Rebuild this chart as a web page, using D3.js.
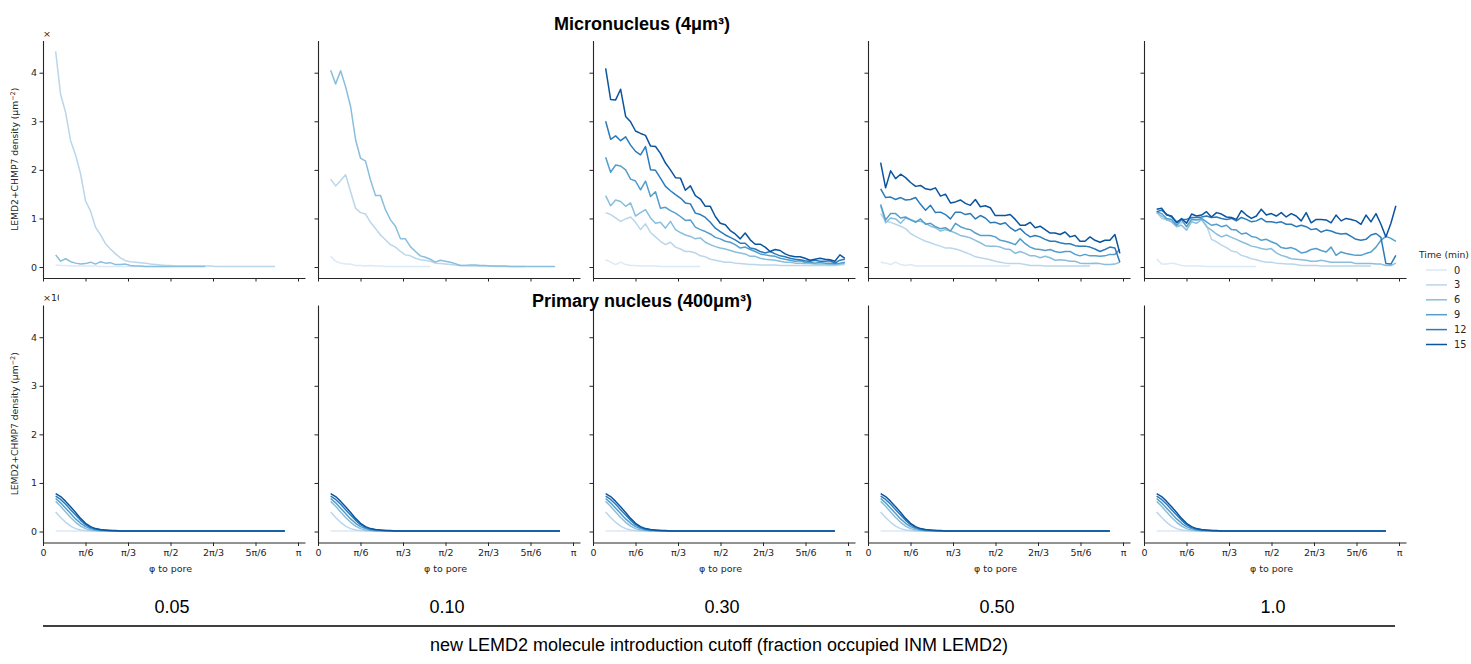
<!DOCTYPE html>
<html><head><meta charset="utf-8">
<script src="https://cdn.jsdelivr.net/npm/d3@7/dist/d3.min.js"></script>
<style>
body{margin:0;background:#fff}
svg text{font-family:"DejaVu Sans",sans-serif}
</style>
</head><body>
<svg id="chart" width="1471" height="664"></svg>
<script>
// ---------- DATA ----------
const times = [0, 3, 6, 9, 12, 15];
const cutoffs = ["0.05", "0.10", "0.30", "0.50", "1.0"];
const timeColors = ["#dbe9f6", "#bad6eb", "#89bedc", "#539ecd", "#2b7bba", "#0b559f"];
const xTickLabels = ["0", "π/6", "π/3", "π/2", "2π/3", "5π/6", "π"];
const xTickFractions = [0, 1/6, 1/3, 1/2, 2/3, 5/6, 1];
const yTicks = [0, 1, 2, 3, 4];

// angular bin centres (rad)
const phi = [0.156,0.217,0.279,0.340,0.402,0.463,0.524,0.586,0.647,0.709,0.770,0.831,0.893,0.954,1.016,1.077,1.138,1.200,1.261,1.323,1.384,1.445,1.507,1.568,1.630,1.691,1.752,1.814,1.875,1.937,1.998,2.059,2.121,2.182,2.244,2.305,2.366,2.428,2.489,2.551,2.612,2.673,2.735,2.796,2.858,2.919,2.980,3.042,3.103];

// Micronucleus, cutoff 0.05 (index = time 0,3,6,9,12,15)
const micro005 = [
  [0.04,0.03,0.03,0.02,0.02,0.02,0.02,0.02,0.02,0.01,0.01,0.01,0.01,0.01,0.01,0.01,0.01,0.01,0.01,0.01,0.01,0.01,0.01,0.01],
  [4.44,3.55,3.18,2.60,2.30,1.92,1.36,1.15,0.82,0.66,0.48,0.37,0.27,0.19,0.13,0.11,0.10,0.09,0.08,0.06,0.05,0.04,0.03,0.03,0.02,0.02,0.02,0.02,0.02,0.02,0.02,0.02,0.01,0.01,0.01,0.01,0.01,0.01,0.01,0.01,0.01,0.01,0.01,0.01,0.01],
  [0.25,0.12,0.17,0.11,0.08,0.06,0.07,0.10,0.06,0.11,0.08,0.09,0.05,0.05,0.06,0.03,0.02,0.02,0.01,0.01,0.01,0.01,0.01,0.01,0.01,0.01,0.01,0.01,0.01,0.01,0.01],
  null, null, null
];
// Micronucleus, cutoff 0.10
const micro010 = [
  [0.22,0.12,0.08,0.06,0.06,0.03,0.03,0.02,0.03,0.02,0.02,0.01,0.01,0.01,0.01,0.01,0.01,0.01,0.01,0.01,0.01],
  [1.81,1.67,1.78,1.90,1.55,1.21,1.12,1.09,0.92,0.79,0.66,0.56,0.46,0.41,0.32,0.25,0.23,0.18,0.15,0.14,0.12,0.08,0.07,0.06,0.05,0.04,0.03,0.03,0.02,0.02,0.02,0.02,0.02,0.01,0.01,0.01,0.01,0.01,0.01,0.01],
  [4.05,3.77,4.04,3.71,3.30,2.62,2.24,2.18,1.79,1.47,1.47,1.18,0.97,0.84,0.58,0.58,0.42,0.32,0.23,0.20,0.16,0.10,0.14,0.12,0.10,0.07,0.03,0.03,0.04,0.04,0.03,0.03,0.02,0.02,0.02,0.02,0.01,0.01,0.01,0.01,0.01,0.01,0.01,0.01,0.01,0.01],
  null, null, null
];
// Micronucleus, cutoff 0.30
const micro030 = [
  [0.15,0.10,0.05,0.10,0.05,0.03,0.03,0.02,0.02,0.02,0.02,0.01,0.01,0.01,0.01,0.01,0.01,0.01,0.01,0.01],
  [1.12,1.08,1.01,0.94,0.99,1.03,0.92,0.77,0.89,0.71,0.62,0.53,0.46,0.51,0.41,0.37,0.32,0.32,0.29,0.23,0.21,0.16,0.14,0.12,0.10,0.10,0.08,0.07,0.06,0.05,0.05,0.04,0.04,0.04,0.04,0.03,0.03,0.03,0.03,0.03,0.03,0.03,0.03,0.03,0.03,0.03,0.03,0.04,0.05],
  [1.47,1.26,1.38,1.35,1.25,1.32,1.05,1.12,1.18,1.01,0.90,0.92,0.80,0.94,0.77,0.71,0.66,0.63,0.58,0.60,0.51,0.46,0.42,0.39,0.37,0.34,0.31,0.29,0.27,0.22,0.22,0.18,0.16,0.15,0.14,0.12,0.10,0.10,0.08,0.08,0.07,0.07,0.06,0.06,0.06,0.05,0.05,0.06,0.08],
  [2.26,1.95,2.10,2.08,2.00,1.81,1.77,1.59,1.77,1.45,1.55,1.21,1.23,1.16,1.11,1.04,0.96,0.97,0.82,0.77,0.73,0.68,0.61,0.58,0.53,0.51,0.46,0.39,0.41,0.36,0.32,0.27,0.25,0.23,0.22,0.18,0.16,0.14,0.12,0.13,0.10,0.10,0.08,0.10,0.08,0.08,0.07,0.08,0.10],
  [3.00,2.63,2.70,2.60,2.68,2.51,2.38,2.31,2.48,2.00,1.99,1.83,1.66,1.57,1.49,1.42,1.32,1.30,1.11,1.08,1.02,0.92,0.80,0.73,0.66,0.61,0.56,0.49,0.49,0.39,0.37,0.32,0.29,0.32,0.27,0.23,0.21,0.18,0.16,0.15,0.13,0.12,0.14,0.12,0.12,0.13,0.08,0.14,0.16],
  [4.09,3.45,3.44,3.66,3.10,2.99,2.80,2.75,2.71,2.49,2.48,2.34,2.14,2.00,1.84,1.83,1.58,1.67,1.47,1.40,1.25,1.25,1.04,0.90,0.87,0.75,0.68,0.58,0.70,0.56,0.47,0.47,0.41,0.32,0.36,0.34,0.27,0.23,0.21,0.21,0.18,0.14,0.16,0.18,0.16,0.15,0.12,0.25,0.18]
];
// Micronucleus, cutoff 0.50
const micro050 = [
  [0.10,0.08,0.05,0.10,0.05,0.03,0.05,0.02,0.02,0.02,0.02,0.02,0.02,0.02,0.02,0.02,0.02,0.02,0.02,0.02,0.02,0.02,0.02,0.02,0.02,0.02,0.02],
  [1.10,0.94,0.92,0.88,0.84,0.79,0.69,0.63,0.58,0.53,0.50,0.46,0.43,0.39,0.39,0.37,0.34,0.30,0.26,0.21,0.19,0.17,0.15,0.12,0.10,0.08,0.07,0.07,0.07,0.05,0.03,0.03,0.03,0.02,0.02,0.02,0.02,0.02,0.02,0.02,0.02,0.02,0.02],
  [1.26,0.91,1.01,0.99,0.90,1.01,0.98,0.94,0.94,0.90,0.84,0.81,0.74,0.77,0.74,0.70,0.65,0.63,0.60,0.55,0.50,0.44,0.43,0.43,0.41,0.37,0.36,0.28,0.32,0.28,0.23,0.23,0.19,0.22,0.19,0.14,0.15,0.14,0.12,0.12,0.08,0.07,0.07,0.08,0.07,0.05,0.05,0.06,0.10],
  [1.29,0.97,1.10,1.10,1.01,1.03,0.97,0.92,0.99,0.88,0.90,0.83,0.79,0.81,0.74,0.90,0.83,0.79,0.77,0.70,0.65,0.65,0.65,0.62,0.55,0.53,0.50,0.46,0.58,0.48,0.41,0.37,0.36,0.34,0.36,0.32,0.30,0.32,0.32,0.26,0.23,0.26,0.23,0.23,0.22,0.23,0.26,0.26,0.36],
  [1.61,1.43,1.44,1.39,1.43,1.38,1.39,1.43,1.29,1.17,1.27,1.12,1.13,1.08,0.99,1.13,1.13,1.08,1.10,0.99,1.06,1.01,0.91,0.92,0.88,0.91,0.81,0.74,0.79,0.69,0.62,0.65,0.62,0.57,0.53,0.53,0.50,0.48,0.48,0.44,0.43,0.43,0.41,0.37,0.32,0.36,0.41,0.39,0.10],
  [2.15,1.63,1.98,1.82,1.91,1.84,1.74,1.66,1.68,1.61,1.59,1.63,1.46,1.50,1.32,1.34,1.38,1.31,1.27,1.39,1.24,1.26,1.22,1.06,1.06,1.06,1.08,0.98,0.86,0.86,0.92,0.81,0.84,0.77,0.70,0.70,0.67,0.72,0.62,0.65,0.53,0.53,0.62,0.55,0.51,0.55,0.55,0.67,0.28]
];
// Micronucleus, cutoff 1.0
const micro100 = [
  [0.17,0.06,0.06,0.08,0.06,0.03,0.02,0.02,0.02,0.02,0.01,0.01,0.01,0.01,0.01,0.01,0.01,0.01,0.01,0.01,0.01],
  [1.14,1.00,0.97,0.95,0.84,0.91,0.93,1.00,0.97,0.97,0.86,0.57,0.52,0.45,0.40,0.33,0.31,0.24,0.21,0.17,0.15,0.12,0.10,0.10,0.08,0.07,0.06,0.06,0.05,0.03,0.03,0.03,0.03,0.02,0.02,0.02,0.02,0.02,0.02,0.02,0.02,0.02,0.02,0.02],
  [1.12,1.05,0.97,0.93,0.83,0.86,0.76,0.93,0.90,0.98,0.83,0.76,0.68,0.62,0.66,0.61,0.57,0.52,0.48,0.43,0.41,0.38,0.36,0.38,0.29,0.24,0.21,0.17,0.16,0.15,0.14,0.12,0.12,0.14,0.12,0.10,0.10,0.10,0.10,0.10,0.07,0.07,0.07,0.07,0.06,0.06,0.03,0.03,0.08],
  [1.14,1.10,1.00,0.98,0.86,0.97,0.83,0.98,0.97,1.00,0.93,0.86,0.88,0.83,0.86,0.77,0.76,0.68,0.70,0.63,0.61,0.55,0.57,0.52,0.48,0.40,0.38,0.40,0.36,0.29,0.31,0.36,0.38,0.34,0.31,0.41,0.24,0.31,0.28,0.26,0.24,0.24,0.28,0.31,0.41,0.55,0.63,0.59,0.53],
  [1.14,1.17,1.09,1.03,0.93,0.98,0.98,1.02,1.02,1.03,1.05,1.02,1.03,1.00,0.98,1.00,0.95,1.02,0.98,0.93,0.95,1.00,0.93,0.93,0.91,0.93,0.88,0.88,0.83,0.86,0.83,0.77,0.79,0.72,0.76,0.74,0.70,0.68,0.69,0.63,0.57,0.55,0.57,0.66,0.69,0.61,0.07,0.06,0.24],
  [1.19,1.21,1.07,1.05,0.91,1.00,0.90,1.09,1.05,1.07,1.14,1.03,1.12,1.09,1.03,1.02,0.98,1.16,1.07,1.00,1.05,1.19,1.07,1.10,1.05,1.12,1.03,1.10,1.05,0.95,1.12,0.91,0.98,0.98,0.97,0.91,1.07,0.95,1.00,0.98,0.95,0.88,1.07,0.93,1.10,0.88,0.62,0.90,1.26]
];
// Primary nucleus (same profile in every cutoff panel)
const primary = [
  [0.01,0.01,0.01,0.01,0.01,0.01,0.01,0.01,0.01,0.01,0.01,0.01,0.01,0.01,0.01,0.01,0.01,0.01,0.01,0.01,0.01,0.01,0.01,0.01,0.01,0.01,0.01,0.01,0.01,0.01,0.01,0.01,0.01,0.01,0.01,0.01,0.01,0.01,0.01,0.01,0.01,0.01,0.01,0.01,0.01,0.01,0.01],
  [0.40,0.29,0.19,0.11,0.06,0.03,0.02,0.01,0.01,0.01,0.01,0.01,0.01,0.01,0.01,0.01,0.01,0.01,0.01,0.01,0.01,0.01,0.01,0.01,0.01,0.01,0.01,0.01,0.01,0.01,0.01,0.01,0.01,0.01,0.01,0.01,0.01,0.01,0.01,0.01,0.01,0.01,0.01,0.01,0.01,0.01,0.01],
  [0.62,0.52,0.40,0.29,0.19,0.11,0.06,0.03,0.02,0.01,0.01,0.01,0.01,0.01,0.01,0.01,0.01,0.01,0.01,0.01,0.01,0.01,0.01,0.01,0.01,0.01,0.01,0.01,0.01,0.01,0.01,0.01,0.01,0.01,0.01,0.01,0.01,0.01,0.01,0.01,0.01,0.01,0.01,0.01,0.01,0.01,0.01],
  [0.68,0.59,0.48,0.37,0.26,0.17,0.10,0.06,0.03,0.02,0.02,0.01,0.01,0.01,0.01,0.01,0.01,0.01,0.01,0.01,0.01,0.01,0.01,0.01,0.01,0.01,0.01,0.01,0.01,0.01,0.01,0.01,0.01,0.01,0.01,0.01,0.01,0.01,0.01,0.01,0.01,0.01,0.01,0.01,0.01,0.01,0.01],
  [0.73,0.66,0.56,0.45,0.34,0.23,0.14,0.08,0.05,0.03,0.02,0.02,0.01,0.01,0.01,0.01,0.01,0.01,0.01,0.01,0.01,0.01,0.01,0.01,0.01,0.01,0.01,0.01,0.01,0.01,0.01,0.01,0.01,0.01,0.01,0.01,0.01,0.01,0.01,0.01,0.01,0.01,0.01,0.01,0.01,0.01,0.01],
  [0.78,0.72,0.62,0.51,0.39,0.27,0.17,0.10,0.06,0.04,0.03,0.02,0.02,0.01,0.01,0.01,0.01,0.01,0.01,0.01,0.01,0.01,0.01,0.01,0.01,0.01,0.01,0.01,0.01,0.01,0.01,0.01,0.01,0.01,0.01,0.01,0.01,0.01,0.01,0.01,0.01,0.01,0.01,0.01,0.01,0.01,0.01]
];
const microPanels = [micro005, micro010, micro030, micro050, micro100];

// ---------- LAYOUT ----------
const svg = d3.select("#chart");
const ink = "#262626";
const panelLefts = [43, 318, 593, 868, 1144];
const panelW = 262;
const rows = [
  {top: 40.5, bottom: 278, title: "Micronucleus (4μm³)", titleY: 30, offset: "×", labels: false},
  {top: 305, bottom: 542.5, title: "Primary nucleus (400μm³)", titleY: 307, offset: "×10", labels: true}
];
const xMax = Math.PI * 262 / 255;
const yDomain = [-0.226, 4.663];

const line = (x, y) => d3.line().x((d, i) => x(phi[i])).y(d => y(d));

rows.forEach((row, r) => {
  panelLefts.forEach((left, p) => {
    const x = d3.scaleLinear().domain([0, xMax]).range([left, left + panelW]);
    const y = d3.scaleLinear().domain(yDomain).range([row.bottom, row.top]);
    const g = svg.append("g");

    // y axis
    const ya = d3.axisLeft(y).tickValues(yTicks).tickSize(3.5).tickSizeOuter(0).tickPadding(2.5)
      .tickFormat(p === 0 ? d3.format("d") : "");
    const yg = g.append("g").attr("transform", `translate(${left},0)`).call(ya);
    // x axis
    const xa = d3.axisBottom(x).tickValues(xTickFractions.map(f => f * Math.PI)).tickSize(3.5).tickSizeOuter(0).tickPadding(3)
      .tickFormat(row.labels ? ((d, i) => xTickLabels[i]) : "");
    const xg = g.append("g").attr("transform", `translate(0,${row.bottom})`).call(xa);
    [yg, xg].forEach(a => {
      a.selectAll("path.domain").attr("stroke", ink).attr("stroke-width", 1.1);
      a.selectAll(".tick line").attr("stroke", ink).attr("stroke-width", 1);
      a.selectAll(".tick text").attr("fill", ink).style("font-size", "9.5px").style("font-family", "DejaVu Sans");
    });

    if (row.labels) {
      g.append("text").attr("x", x(Math.PI / 2)).attr("y", 572)
        .attr("text-anchor", "middle").attr("fill", ink)
        .style("font-family", "DejaVu Sans").style("font-size", "9.5px").text("φ to pore");
    }
    if (p === 0) {
      const cy = (row.top + row.bottom) / 2;
      const lab = g.append("text").attr("transform", `translate(18,${cy}) rotate(-90)`)
        .attr("text-anchor", "middle").attr("fill", ink).style("font-size", "9.2px");
      lab.append("tspan").text("LEMD2+CHMP7 density (μm");
      lab.append("tspan").attr("dy", -3.5).style("font-size", "6.5px").text("−2");
      lab.append("tspan").attr("dy", 3.5).text(")");
      // clipped scientific offset text
      const cid = "clip" + r;
      svg.append("clipPath").attr("id", cid).append("rect")
        .attr("x", 40).attr("y", row.top - 15).attr("width", r === 0 ? 10 : 19).attr("height", 14);
      g.append("text").attr("x", 43).attr("y", row.top - 4).attr("clip-path", `url(#${cid})`)
        .attr("fill", ink).style("font-size", "9.5px").text(row.offset);
    }

    // lines
    const series = r === 0 ? microPanels[p] : primary;
    series.forEach((vals, t) => {
      if (!vals) return;
      g.append("path").datum(vals).attr("d", line(x, y)).attr("fill", "none")
        .attr("stroke", timeColors[t]).attr("stroke-width", 1.5).attr("stroke-linejoin", "round");
    });
  });

  svg.append("text").attr("x", 642).attr("y", row.titleY).attr("text-anchor", "middle")
    .style("font-family", "'Liberation Sans', Arial, sans-serif").style("font-weight", "bold")
    .style("font-size", "18px").attr("fill", "#000").text(row.title);
});

// legend
const lg = svg.append("g");
lg.append("text").attr("x", 1419).attr("y", 258).attr("fill", ink).style("font-size", "9.2px").text("Time (min)");
times.forEach((t, i) => {
  const yy = 270 + i * 14.9;
  lg.append("line").attr("x1", 1426).attr("x2", 1447).attr("y1", yy).attr("y2", yy)
    .attr("stroke", timeColors[i]).attr("stroke-width", 1.5);
  lg.append("text").attr("x", 1454).attr("y", yy + 3.5).attr("fill", ink).style("font-size", "9.8px").text(t);
});

// cutoff labels and outer x label
panelLefts.forEach((left, p) => {
  svg.append("text").attr("x", left + panelW / 2 - 2).attr("y", 613).attr("text-anchor", "middle")
    .style("font-family", "'Liberation Sans', Arial, sans-serif").style("font-size", "18px").attr("fill", "#000")
    .text(cutoffs[p]);
});
svg.append("line").attr("x1", 43).attr("x2", 1395).attr("y1", 626).attr("y2", 626)
  .attr("stroke", "#000").attr("stroke-width", 1.5);
svg.append("text").attr("x", 719).attr("y", 651).attr("text-anchor", "middle")
  .style("font-family", "'Liberation Sans', Arial, sans-serif").style("font-size", "18px").attr("fill", "#000")
  .text("new LEMD2 molecule introduction cutoff (fraction occupied INM LEMD2)");
</script>
</body></html>
